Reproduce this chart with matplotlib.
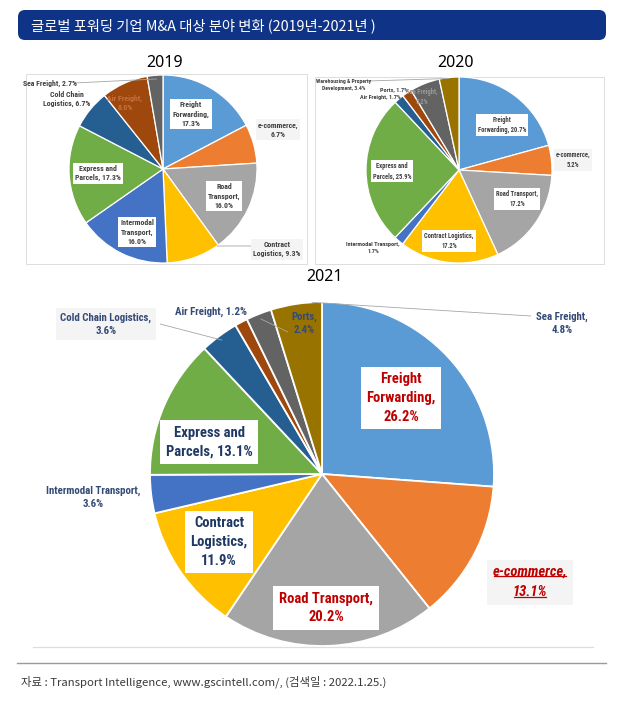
import matplotlib
matplotlib.use('Agg')
import matplotlib.pyplot as plt
from matplotlib import font_manager
from matplotlib.patches import FancyBboxPatch, Rectangle
import numpy as np

W, H = 622, 721

# ---------------- data ----------------
title = "글로벌 포워딩 기업 M&A 대상 분야 변화 (2019년-2021년 )"
source = "자료 : Transport Intelligence, www.gscintell.com/, (검색일 : 2022.1.25.)"
years = ["2019", "2020", "2021"]

cats_2019 = ["Freight Forwarding", "e-commerce", "Road Transport", "Contract Logistics",
             "Intermodal Transport", "Express and Parcels", "Cold Chain Logistics",
             "Air Freight", "Sea Freight"]
vals_2019 = [17.3, 6.7, 16.0, 9.3, 16.0, 17.3, 6.7, 8.0, 2.7]

cats_2020 = ["Freight Forwarding", "e-commerce", "Road Transport", "Contract Logistics",
             "Intermodal Transport", "Express and Parcels", "Air Freight", "Ports",
             "Sea Freight", "Warehousing & Property Development"]
vals_2020 = [20.7, 5.2, 17.2, 17.2, 1.7, 25.9, 1.7, 1.7, 5.2, 3.4]

cats_2021 = ["Freight Forwarding", "e-commerce", "Road Transport", "Contract Logistics",
             "Intermodal Transport", "Express and Parcels", "Cold Chain Logistics",
             "Air Freight", "Ports", "Sea Freight"]
vals_2021 = [26.2, 13.1, 20.2, 11.9, 3.6, 13.1, 3.6, 1.2, 2.4, 4.8]

# ---------------- style ----------------
palette = ['#5B9BD5', '#ED7D31', '#A5A5A5', '#FFC000', '#4472C4',
           '#70AD47', '#255E91', '#9E480E', '#636363', '#997300']

KR = ['Noto Sans CJK KR', 'DejaVu Sans']

avail = {f.name for f in font_manager.fontManager.ttflist}
LABEL_FONT = None
for cand in ['Liberation Sans Narrow', 'Roboto Condensed', 'Open Sans Condensed']:
    if cand in avail:
        LABEL_FONT = cand
        break
LABEL_STRETCH = 'normal'
if LABEL_FONT is None:
    if any(f.name == 'DejaVu Sans' and f.stretch == 'condensed' for f in font_manager.fontManager.ttflist):
        LABEL_FONT = 'DejaVu Sans'
        LABEL_STRETCH = 'condensed'
    else:
        LABEL_FONT = 'Roboto'

NAVY = '#1F3864'
NAVY2 = '#354B77'
RED = '#C00000'
GREY_TXT = '#404040'

# label templates (line breaks) and layout per chart: cat -> (px, py, box)
wrap_2019 = {
    "Freight Forwarding": "Freight\nForwarding,\n{}",
    "e-commerce": "e-commerce,\n{}",
    "Road Transport": "Road\nTransport,\n{}",
    "Contract Logistics": "Contract\nLogistics, {}",
    "Intermodal Transport": "Intermodal\nTransport,\n{}",
    "Express and Parcels": "Express and\nParcels, {}",
    "Cold Chain Logistics": "Cold Chain\nLogistics, {}",
    "Air Freight": "Air Freight,\n{}",
    "Sea Freight": "Sea Freight, {}",
}
pos_2019 = {
    "Freight Forwarding": (191, 114, 'white'),
    "e-commerce": (278, 130, 'grey'),
    "Road Transport": (224, 196, 'white'),
    "Contract Logistics": (277, 249, 'grey'),
    "Intermodal Transport": (137, 232, 'white'),
    "Express and Parcels": (98, 173, 'white'),
    "Cold Chain Logistics": (67, 99, None),
    "Air Freight": (125, 103, None),
    "Sea Freight": (50, 83, None),
}
lead_2019 = {"Contract Logistics": (0.03, 1.0, (251, 246)),
             "Sea Freight": (0.6, 0.96, (74, 83))}
col_2019 = {"Air Freight": '#C8703F'}

wrap_2020 = {
    "Freight Forwarding": "Freight\nForwarding, {}",
    "e-commerce": "e-commerce,\n{}",
    "Road Transport": "Road Transport,\n{}",
    "Contract Logistics": "Contract Logistics,\n{}",
    "Intermodal Transport": "Intermodal Transport,\n{}",
    "Express and Parcels": "Express and\nParcels, {}",
    "Air Freight": "Air Freight, {}",
    "Ports": "Ports, {}",
    "Sea Freight": "Sea Freight,\n{}",
    "Warehousing & Property Development": "Warehousing & Property\nDevelopment, {}",
}
pos_2020 = {
    "Freight Forwarding": (502, 125, 'white'),
    "e-commerce": (573, 160, 'grey'),
    "Road Transport": (517, 199, 'white'),
    "Contract Logistics": (449, 241, 'white'),
    "Intermodal Transport": (373, 248, None),
    "Express and Parcels": (392, 171, 'white'),
    "Air Freight": (380, 97.5, None),
    "Ports": (394, 90, None),
    "Sea Freight": (422, 97, None),
    "Warehousing & Property Development": (344, 85, None),
}
size_2020 = {"Warehousing & Property Development": 4.1, "Air Freight": 4.4,
             "Ports": 4.4, "Intermodal Transport": 4.4}
lead_2020 = {"Warehousing & Property Development": (0.5, 0.99, (368, 81))}
col_2020 = {"Sea Freight": '#9A9A9A'}

wrap_2021 = {
    "Freight Forwarding": "Freight\nForwarding,\n{}",
    "e-commerce": "e-commerce,\n{}",
    "Road Transport": "Road Transport,\n{}",
    "Contract Logistics": "Contract\nLogistics,\n{}",
    "Intermodal Transport": "Intermodal Transport,\n{}",
    "Express and Parcels": "Express and\nParcels, {}",
    "Cold Chain Logistics": "Cold Chain Logistics,\n{}",
    "Air Freight": "Air Freight, {}",
    "Ports": "Ports,\n{}",
    "Sea Freight": "Sea Freight,\n{}",
}
pos_2021 = {
    "Freight Forwarding": (401, 398, 'white'),
    "e-commerce": (530, 582, 'grey'),
    "Road Transport": (326, 608, 'white'),
    "Contract Logistics": (219, 542, 'white'),
    "Intermodal Transport": (93, 497, None),
    "Express and Parcels": (209, 442, 'white'),
    "Cold Chain Logistics": (106, 324, 'grey'),
    "Air Freight": (211, 312, None),
    "Ports": (304, 323, None),
    "Sea Freight": (562, 323, None),
}
lead_2021 = {"Cold Chain Logistics": (0.5, 0.97, (160, 324)),
             "Ports": (0.5, 0.97, (288, 332)),
             "Sea Freight": (0.8, 1.0, (531, 316))}
big_2021 = {"Freight Forwarding": RED, "Road Transport": RED, "e-commerce": RED,
            "Contract Logistics": NAVY, "Express and Parcels": NAVY}

# ---------------- figure ----------------
fig = plt.figure(figsize=(W / 100, H / 100), dpi=100)
ax = fig.add_axes([0, 0, 1, 1])


def Y(py):
    return H - py


def draw_pie(vals, center, r, lw):
    wedges, _ = ax.pie(vals, colors=palette[:len(vals)], startangle=90, counterclock=False,
                       center=(center[0], Y(center[1])), radius=r,
                       wedgeprops=dict(edgecolor='white', linewidth=lw))
    return wedges


def wedge_point(w, t, rf):
    ang = np.deg2rad(w.theta2 - t * (w.theta2 - w.theta1))
    cx, cy = w.center
    return cx + rf * w.r * np.cos(ang), cy + rf * w.r * np.sin(ang)


def box_kw(box, pad):
    if box == 'white':
        return dict(facecolor='white', edgecolor='none', pad=pad)
    if box == 'grey':
        return dict(facecolor='#F4F4F4', edgecolor='none', pad=pad)
    return None


def labels(wedges, cats, vals, wraps, pos, leads, fs, color_default, colors_over=None,
           ls=1.45, pad=2, lead_col='#A6A6A6', skip=(), sizes=None):
    colors_over = colors_over or {}
    sizes = sizes or {}
    for w, c, v in zip(wedges, cats, vals):
        if c in skip:
            continue
        px, py, box = pos[c]
        txt = wraps[c].format(f"{v:.1f}%")
        ax.text(px, Y(py), txt, ha='center', va='center', fontsize=sizes.get(c, fs),
                family=LABEL_FONT, fontstretch=LABEL_STRETCH, fontweight='bold',
                color=colors_over.get(c, color_default), linespacing=ls,
                bbox=box_kw(box, pad), zorder=5)
        if c in leads:
            t, rf, (lx, ly) = leads[c]
            x0, y0 = wedge_point(w, t, rf)
            ax.plot([x0, lx], [y0, Y(ly)], color=lead_col, lw=0.6, zorder=4,
                    solid_capstyle='butt')


# header banner
ax.add_patch(FancyBboxPatch((18, Y(40)), 588, 30, boxstyle='round,pad=0,rounding_size=7',
                            facecolor='#0F3487', edgecolor='none', zorder=2))
ax.text(31, Y(25.5), title, ha='left', va='center', fontsize=10.3, color='white',
        family=KR, zorder=3)

# chart frames for 2019 / 2020
ax.add_patch(Rectangle((26, Y(264)), 281, 190, facecolor='none', edgecolor='#DDDDDD', lw=0.7))
ax.add_patch(Rectangle((315, Y(264)), 289, 187, facecolor='none', edgecolor='#DDDDDD', lw=0.7))

# year titles
for yr, (tx, ty) in zip(years, [(165, 63), (455, 63), (325, 277)]):
    ax.text(tx, Y(ty), yr, ha='center', va='center', fontsize=11.5,
            family=['Noto Sans', 'DejaVu Sans'], color='black')

# 2019
w19 = draw_pie(vals_2019, (163, 169), 94, 0.9)
labels(w19, cats_2019, vals_2019, wrap_2019, pos_2019, lead_2019, 5.6, GREY_TXT, col_2019,
       ls=1.45, pad=1.5)

# 2020
w20 = draw_pie(vals_2020, (459, 170), 93, 0.9)
labels(w20, cats_2020, vals_2020, wrap_2020, pos_2020, lead_2020, 4.7, GREY_TXT, col_2020,
       ls=1.45, pad=1.5, sizes=size_2020)

# 2021
w21 = draw_pie(vals_2021, (322, 474), 172, 1.3)
labels(w21, cats_2021, vals_2021, wrap_2021, pos_2021, lead_2021, 7.8, NAVY2,
       ls=1.4, pad=3, skip=tuple(big_2021.keys()))
for w, c, v in zip(w21, cats_2021, vals_2021):
    if c not in big_2021 or c == 'e-commerce':
        continue
    px, py, box = pos_2021[c]
    ax.text(px, Y(py), wrap_2021[c].format(f"{v:.1f}%"), ha='center', va='center',
            fontsize=10.5, family=LABEL_FONT, fontstretch=LABEL_STRETCH, fontweight='bold',
            color=big_2021[c], linespacing=1.42, bbox=box_kw(box, 4), zorder=5)

# e-commerce 2021: italic, underlined, light box
ec_i = cats_2021.index('e-commerce')
ec_lines = wrap_2021['e-commerce'].format(f"{vals_2021[ec_i]:.1f}%").split('\n')
px, py, box = pos_2021['e-commerce']
step = 21
ec_texts = []
for i, ln in enumerate(ec_lines):
    yy = py + (i - (len(ec_lines) - 1) / 2) * step
    ec_texts.append(ax.text(px, Y(yy), ln, ha='center', va='center', fontsize=10.5,
                            family=LABEL_FONT, fontstretch=LABEL_STRETCH, fontweight='bold',
                            fontstyle='italic', color=RED, zorder=6))

# separators
ax.plot([33, 593], [Y(647), Y(647)], color='#DDDDDD', lw=0.9)
ax.plot([17, 606], [Y(662.5), Y(662.5)], color='#9A9A9A', lw=1.0)

ax.text(21, Y(682), source, ha='left', va='center', fontsize=8.2, family=KR, color='#3A3A3A')

ax.set_xlim(0, W)
ax.set_ylim(0, H)
ax.set_aspect('auto')
ax.axis('off')

# underline + box for e-commerce label (needs text extents)
fig.canvas.draw()
rend = fig.canvas.get_renderer()
bbs = [t.get_window_extent(rend) for t in ec_texts]
x0 = min(b.x0 for b in bbs) - 6
x1 = max(b.x1 for b in bbs) + 6
y0 = min(b.y0 for b in bbs) - 5
y1 = max(b.y1 for b in bbs) + 5
ax.add_patch(Rectangle((x0, y0), x1 - x0, y1 - y0, facecolor='#F4F4F4', edgecolor='none', zorder=5))
for b in bbs:
    ax.plot([b.x0 + 1, b.x1 - 1], [b.y0 + 2.2, b.y0 + 2.2], color=RED, lw=0.9, zorder=7)

fig.savefig('out.png', dpi=100)
